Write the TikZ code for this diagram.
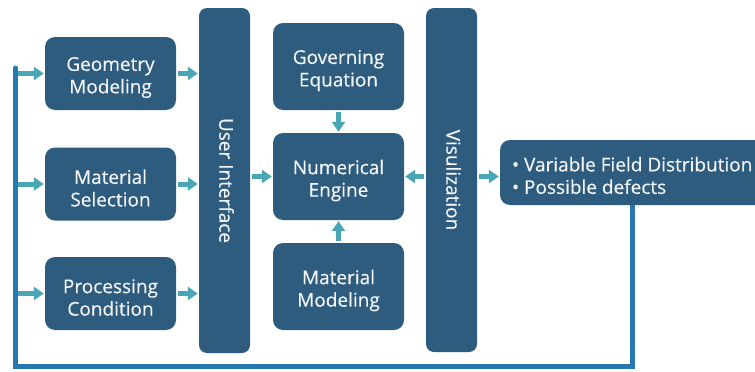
\documentclass[tikz,border=0pt]{standalone}
\usepackage{fontspec}
\setmainfont{Open Sans}
\newfontfamily\diagfont{Open Sans}[FakeBold=0.35]
\usetikzlibrary{arrows.meta}
\definecolor{boxblue}{HTML}{2E5C7E}
\definecolor{arrowteal}{HTML}{4AA6B5}
\definecolor{loopblue}{HTML}{2878B0}
\definecolor{labelwhite}{HTML}{F2F4F6}
\begin{document}
\begin{tikzpicture}[x=1pt,y=-1pt,
  block/.style={fill=boxblue, rounded corners=10pt, inner sep=0pt},
  sidebox/.style={block, minimum width=131pt, minimum height=73pt},
  corebox/.style={block, minimum width=131pt, minimum height=87pt},
  boxtext/.style={text=labelwhite, align=center, inner sep=0pt,
    font=\diagfont\fontsize{19}{22.5}\selectfont},
  bar/.style={fill=boxblue, rounded corners=8pt, minimum width=51pt, minimum height=345pt, inner sep=0pt},
  bartext/.style={boxtext, rotate=-90},
  flow/.style={draw=arrowteal, line width=5pt, shorten <=2pt, shorten >=1pt,
    -{Triangle[width=13pt,length=10pt]}},
  loopline/.style={draw=loopblue, line width=5pt, line join=miter},
]
\useasboundingbox (0,0) rectangle (755,372);

% input stage
\node[sidebox] (geo) at (110.5,73.5) {};
\node[sidebox] (mat) at (110.5,184) {};
\node[sidebox] (proc) at (110.5,293.5) {};
\node[boxtext] (geotext) at ([yshift=-4pt]geo.center) {Geometry\\Modeling};
\node[boxtext] (mattext) at ([yshift=-4pt]mat.center) {Material\\Selection};
\node[boxtext] (proctext) at ([yshift=-4pt]proc.center) {Processing\\Condition};

% user interface bar
\node[bar] (ui) at (224.5,180.5) {};
\node[bartext] (uitext) at ([xshift=2pt]ui.center) {User Interface};

% solver core
\node[corebox] (gov) at (338.5,66.5) {};
\node[corebox] (num) at (338.5,176.5) {};
\node[corebox] (mm) at (338.5,286.5) {};
\node[boxtext] (govtext) at ([yshift=-4pt]gov.center) {Governing\\Equation};
\node[boxtext] (numtext) at ([yshift=-4pt]num.center) {Numerical\\Engine};
\node[boxtext] (mmtext) at ([yshift=-4pt]mm.center) {Material\\Modeling};

% visualization bar
\node[bar, minimum height=344pt] (vis) at (451.5,180) {};
\node[bartext] (vistext) at ([xshift=2pt]vis.center) {Visulization};

% results
\node[block, minimum width=275pt, minimum height=65pt] (out) at (637.5,172.5) {};
\node[boxtext, align=left, anchor=west] (outtext) at ([xshift=12pt,yshift=-3pt]out.west)
  {• Variable Field Distribution\\• Possible defects};

% feedback loop
\coordinate (fbcorner) at (632,366);
\coordinate (fbleft) at (15.5,366);
\coordinate (fbtop) at (15.5,68);
\draw[loopline] (out.south -| fbcorner) -- (fbcorner) -- (fbleft) -- (fbtop);
\fill[loopblue] (fbtop) circle (2.5pt);

% flow arrows
\draw[flow] (geo.west -| fbtop) -- (geo.west);
\draw[flow] (mat.west -| fbtop) -- (mat.west);
\draw[flow] (proc.west -| fbtop) -- (proc.west);
\draw[flow] (geo.east) -- (geo.east -| ui.west);
\draw[flow] (mat.east) -- (mat.east -| ui.west);
\draw[flow] (proc.east) -- (proc.east -| ui.west);
\draw[flow] (ui.east |- num.west) -- (num.west);
\draw[flow] (gov.south) -- (num.north);
\draw[flow] (mm.north) -- (num.south);
\draw[flow] (vis.west |- num.east) -- (num.east);
\draw[flow] (vis.east |- num.east) -- (num.east -| out.west);
\end{tikzpicture}
\end{document}
